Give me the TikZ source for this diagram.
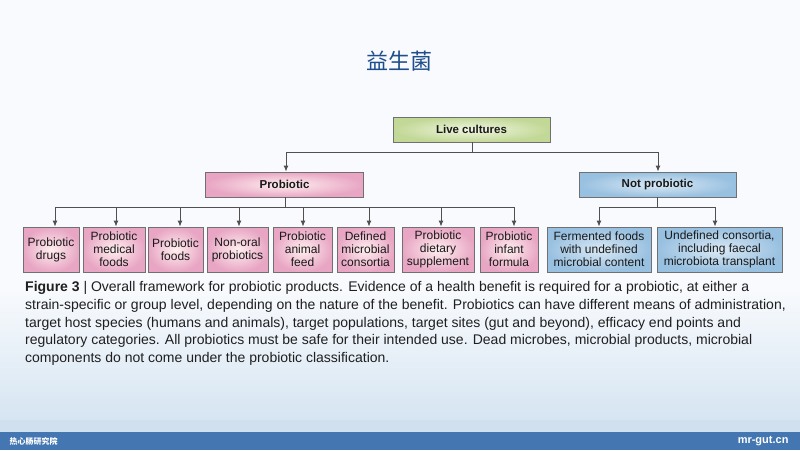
\documentclass[tikz,border=0pt]{standalone}
\usepackage{fontspec}
\setmainfont{Liberation Sans}
\newfontfamily\cjk{Noto Sans CJK SC}
\usetikzlibrary{arrows.meta,calc}
\definecolor{titleblue}{HTML}{1F4E8C}
\definecolor{bandblue}{HTML}{4477B2}
\definecolor{lightband}{HTML}{D0E0EE}
\definecolor{bgbottom}{HTML}{D6E5F2}
\definecolor{bgtop}{HTML}{F8FAFD}
\definecolor{linegray}{HTML}{505050}
\definecolor{boxgray}{HTML}{707070}
\tikzset{
  box/.style={draw=boxgray,line width=0.8pt,inner sep=1pt,align=center,font=\fontsize{12}{13}\selectfont,text=black!90},
  pinkbox/.style={box,inner color=pink!25!white,outer color={rgb,255:red,232;green,166;blue,196}},
  bluebox/.style={box,inner color={rgb,255:red,218;green,233;blue,245},outer color={rgb,255:red,152;green,192;blue,224}},
  greenbox/.style={box,inner color={rgb,255:red,240;green,246;blue,226},outer color={rgb,255:red,194;green,216;blue,150}},
  headfont/.style={font=\fontsize{11.5}{12.5}\selectfont\bfseries},
  arr/.style={draw=linegray,line width=1pt,-{Latex[length=6pt,width=5pt]}},
  ln/.style={draw=linegray,line width=1pt},
}
\begin{document}
\begin{tikzpicture}[x=1pt,y=-1pt]
\useasboundingbox (0,0) rectangle (800,450);
% background
\fill[bgtop] (0,0) rectangle (800,290);
\shade[top color=bgtop,bottom color=bgbottom] (0,290) rectangle (800,420);
\fill[lightband] (0,420) rectangle (800,432);
\fill[bandblue] (0,432) rectangle (800,450);
\node[font=\cjk\fontsize{8}{8}\selectfont\bfseries,text=white,anchor=west] (org) at (6,441) {热心肠研究院};
\node[font=\fontsize{11}{11}\selectfont\bfseries,text=white,anchor=east] (site) at (792,441) {mr-gut.cn};
% title
\node[font=\cjk\fontsize{22}{22}\selectfont,text=titleblue] (title) at (399,61) {益生菌};
% top levels
\node[greenbox,minimum width=157pt,minimum height=25pt,headfont] (live) at (471.5,129.5) {Live cultures};
\node[pinkbox,minimum width=158pt,minimum height=25pt,headfont] (pro) at (284.5,184.5) {Probiotic};
\node[bluebox,minimum width=157pt,minimum height=25pt,headfont] (notpro) at (657.5,184.5) {Not probiotic};
% bottom boxes
\foreach \n/\c/\w/\t in {
  b1/51/56/{Probiotic\\drugs},
  b2/114/62/{Probiotic\\medical\\foods},
  b3/175.5/55/{Probiotic\\foods},
  b4/237.5/61/{Non-oral\\probiotics},
  b5/302.5/59/{Probiotic\\animal\\feed},
  b6/365.5/57/{Defined\\microbial\\consortia},
  b7/438/72/{Probiotic\\dietary\\supplement},
  b8/509/58/{Probiotic\\infant\\formula}}
  {\node[pinkbox,minimum width=\w pt,minimum height=45pt] (\n) at (\c,249.5) {\t};}
\node[bluebox,minimum width=104pt,minimum height=45pt] (b9) at (599,249.5) {Fermented foods\\with undefined\\microbial content};
\node[bluebox,minimum width=125pt,minimum height=45pt] (b10) at (719.5,249.5) {Undefined consortia,\\including faecal\\microbiota transplant};
% connectors level 1
\coordinate (j0) at (472,152);
\coordinate (jl) at (286,152);
\coordinate (jr) at (658,152);
\draw[ln] (live.south -| j0) -- (j0);
\draw[ln] (jl) -- (jr);
\draw[arr] (jl) -- (jl |- pro.north);
\draw[arr] (jr) -- (jr |- notpro.north);
% connectors probiotic
\coordinate (pj) at (285,207);
\draw[ln] (pro.south -| pj) -- (pj);
\foreach \n/\x in {b1/55,b2/116,b3/180,b4/239,b5/303,b6/369,b7/441,b8/514}{
  \coordinate (a\n) at (\x,207);
  \draw[arr] (a\n) -- (a\n |- \n.north);
}
\draw[ln] (ab1) -- (ab8);
% connectors not probiotic
\coordinate (nj) at (657,207);
\draw[ln] (notpro.south -| nj) -- (nj);
\coordinate (ab9) at (599,207);
\coordinate (ab10) at (715,207);
\draw[ln] (ab9) -- (ab10);
\draw[arr] (ab9) -- (ab9 |- b9.north);
\draw[arr] (ab10) -- (ab10 |- b10.north);
% caption
\node[anchor=north west,align=left,inner sep=0pt,font=\fontsize{14}{17.6}\selectfont,text=black!88] (cap) at (25,281.5) {%
\textbf{Figure 3} | Overall framework for probiotic products. Evidence of a health benefit is required for a probiotic, at either a\\
strain-specific or group level, depending on the nature of the benefit. Probiotics can have different means of administration,\\
target host species (humans and animals), target populations, target sites (gut and beyond), efficacy end points and\\
regulatory categories. All probiotics must be safe for their intended use. Dead microbes, microbial products, microbial\\
components do not come under the probiotic classification.};
\end{tikzpicture}
\end{document}
